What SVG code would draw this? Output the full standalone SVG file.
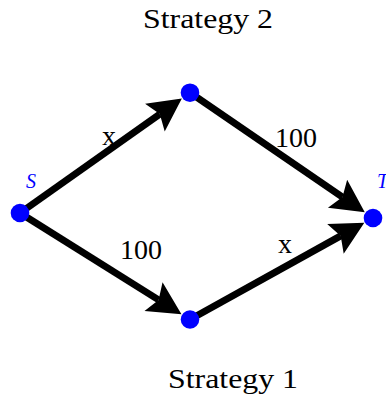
<svg xmlns="http://www.w3.org/2000/svg" width="386" height="401" viewBox="0 0 386 401">
<style>
.edge{stroke:#000;stroke-width:7;fill:none;marker-end:url(#arr)}
.node{fill:#0000ff}
.lbl{font-family:"Liberation Serif","Times New Roman",serif;font-size:28px;fill:#000}
.nl{font-family:"Liberation Serif","Times New Roman",serif;font-size:20px;font-style:italic;fill:#0000ff}
</style>
<defs>
<marker id="arr" markerUnits="userSpaceOnUse" orient="auto" refX="6" refY="0" markerWidth="34" markerHeight="36" viewBox="0 -18 34 36" overflow="visible">
<path d="M0,-17 L33,0 L0,17 L6,0 Z" fill="#000"/>
</marker>
</defs>
<rect width="386" height="401" fill="#fff"/>
<g id="connectors">
<line class="edge" x1="20" y1="213" x2="159.8" y2="114.1"/>
<line class="edge" x1="190" y1="92.7" x2="342.5" y2="197.1"/>
<line class="edge" x1="20" y1="213" x2="158.6" y2="299.9"/>
<line class="edge" x1="190" y1="319.5" x2="340.7" y2="235.9"/>
<text class="lbl" x="109" y="145" text-anchor="middle">x</text>
<text class="lbl" x="296" y="147" text-anchor="middle">100</text>
<text class="lbl" x="141" y="259" text-anchor="middle">100</text>
<text class="lbl" x="285" y="253" text-anchor="middle">x</text>
</g>
<g id="node-S">
<circle class="node" cx="20" cy="213" r="9.3"/>
<text class="nl" x="31" y="188" text-anchor="middle">S</text>
</g>
<g id="node-top">
<circle class="node" cx="190" cy="92.7" r="9.3"/>
</g>
<g id="node-bottom">
<circle class="node" cx="190" cy="319.5" r="9.3"/>
</g>
<g id="node-T">
<circle class="node" cx="373" cy="218" r="9.3"/>
<text class="nl" x="377" y="188">T</text>
</g>
<g id="label-strategy2">
<text class="lbl" x="143" y="28" textLength="130" lengthAdjust="spacingAndGlyphs">Strategy 2</text>
</g>
<g id="label-strategy1">
<text class="lbl" x="168" y="388" textLength="130" lengthAdjust="spacingAndGlyphs">Strategy 1</text>
</g>
</svg>
